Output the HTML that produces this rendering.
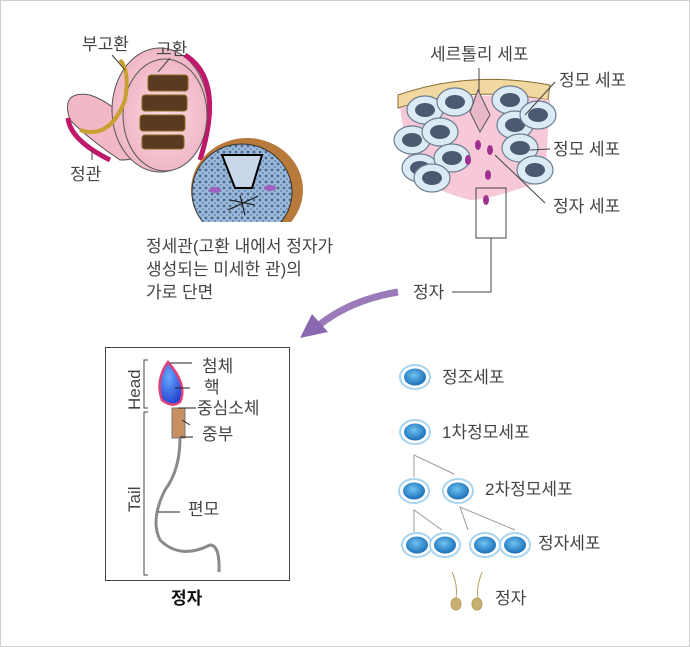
<!DOCTYPE html>
<html><head><meta charset="utf-8"><style>
html,body{margin:0;padding:0;background:#fff}
svg{display:block}
text{font-family:"Liberation Sans","Noto Sans CJK KR",sans-serif;fill:#444;font-size:17px}
</style></head><body>
<svg width="690" height="647" viewBox="0 0 690 647" xmlns="http://www.w3.org/2000/svg">
<defs>
<radialGradient id="cg" cx="0.45" cy="0.4" r="0.6"><stop offset="0" stop-color="#6fc3f0"/><stop offset="1" stop-color="#1a6fb8"/></radialGradient>
<radialGradient id="hg" cx="0.4" cy="0.35" r="0.7"><stop offset="0" stop-color="#6aa8ff"/><stop offset="1" stop-color="#1e3fd0"/></radialGradient>
<radialGradient id="pg" cx="0.5" cy="0.5" r="0.6"><stop offset="0" stop-color="#fbdde4"/><stop offset="1" stop-color="#eeb0c0"/></radialGradient>
<pattern id="dots" width="6" height="6" patternUnits="userSpaceOnUse"><rect width="6" height="6" fill="#9ab8d8"/><circle cx="2" cy="2" r="1.4" fill="#4a6a90"/><circle cx="5" cy="5" r="1" fill="#6a88b0"/></pattern>
<g id="cell"><ellipse rx="15" ry="12" fill="#fff" stroke="#a8d4f0" stroke-width="2"/><ellipse rx="11" ry="8.5" fill="url(#cg)"/></g>
<g id="oc"><ellipse rx="18" ry="14" fill="#dceaf5" stroke="#6b7f90" stroke-width="1.2"/><ellipse rx="10" ry="7" fill="#4a5a70"/></g>
</defs>
<rect x="0.5" y="0.5" width="689" height="646" fill="#fff" stroke="#cfcfcf"/>

<!-- testis illustration -->
<path d="M70 120 Q60 90 90 95 Q120 105 140 140 Q150 160 120 160 Q90 140 70 120Z" fill="#f3b8c6" stroke="#555"/>
<path d="M68 118 Q70 140 110 160" fill="none" stroke="#c0186a" stroke-width="5"/>
<ellipse cx="160" cy="110" rx="48" ry="62" fill="url(#pg)" stroke="#555"/>
<path d="M185 55 Q225 80 200 160" fill="none" stroke="#c0186a" stroke-width="5"/>
<ellipse cx="165" cy="115" rx="42" ry="56" fill="url(#pg)" stroke="#555"/>
<g fill="#5a3a20" stroke="#8a6a20"><rect x="148" y="75" width="40" height="16" rx="3"/><rect x="142" y="95" width="45" height="16" rx="3"/><rect x="140" y="115" width="45" height="16" rx="3"/><rect x="142" y="135" width="42" height="14" rx="3"/></g>
<path d="M80 130 Q110 140 125 100 Q130 70 120 60" fill="none" stroke="#c9a030" stroke-width="4"/>
<text x="82" y="50">부고환</text>
<text x="156" y="55">고환</text>
<text x="70" y="180">정관</text>
<line x1="112" y1="55" x2="125" y2="70" stroke="#444"/>
<line x1="170" y1="58" x2="158" y2="72" stroke="#444"/>
<line x1="92" y1="160" x2="92" y2="150" stroke="#444"/>
<!-- tubule cross-section -->
<clipPath id="cp"><rect x="180" y="130" width="130" height="92"/></clipPath>
<g clip-path="url(#cp)"><ellipse cx="247" cy="190" rx="56" ry="52" fill="#b87a3a"/><ellipse cx="242" cy="192" rx="50" ry="48" fill="url(#dots)" stroke="#333"/>
<ellipse cx="215" cy="190" rx="6" ry="3" fill="#a060c0"/><ellipse cx="270" cy="188" rx="6" ry="3" fill="#a060c0"/>
<path d="M222 155 L262 155 L252 188 L235 188Z" fill="#c8d8ea" stroke="#000" stroke-width="2"/>
<g stroke="#111"><line x1="230" y1="200" x2="255" y2="205"/><line x1="240" y1="195" x2="245" y2="215"/><line x1="228" y1="210" x2="258" y2="196"/></g></g>
<text x="146" y="252">정세관(고환 내에서 정자가</text>
<text x="146" y="275">생성되는 미세한 관)의</text>
<text x="146" y="298">가로 단면</text>

<!-- seminiferous tissue -->
<path d="M398 95 Q470 70 550 85 L548 100 Q470 85 398 108Z" fill="#f0d8a0" stroke="#8a6a30"/>
<path d="M400 108 Q470 88 550 100 L545 180 Q490 200 470 200 Q430 190 410 170Z" fill="#f6c8d8"/>
<use href="#oc" x="425" y="110"/><use href="#oc" x="455" y="102"/><use href="#oc" x="412" y="140"/><use href="#oc" x="440" y="132"/><use href="#oc" x="420" y="168"/><use href="#oc" x="452" y="158"/><use href="#oc" x="432" y="178"/>
<use href="#oc" x="510" y="100"/><use href="#oc" x="515" y="125"/><use href="#oc" x="520" y="148"/><use href="#oc" x="538" y="115"/><use href="#oc" x="535" y="170"/>
<path d="M478 90 L490 115 L480 132 L470 112Z" fill="#e8b8c8" stroke="#555"/>
<g fill="#a03090"><ellipse cx="478" cy="145" rx="3" ry="5"/><ellipse cx="490" cy="150" rx="3" ry="5"/><ellipse cx="468" cy="160" rx="3" ry="5"/><ellipse cx="488" cy="175" rx="3" ry="5"/><ellipse cx="486" cy="200" rx="3" ry="5"/></g>
<rect x="476" y="188" width="30" height="50" fill="none" stroke="#444"/>
<text x="430" y="60">세르톨리 세포</text>
<text x="559" y="86">정모 세포</text>
<text x="553" y="155">정모 세포</text>
<text x="553" y="212">정자 세포</text>
<line x1="479" y1="68" x2="479" y2="92" stroke="#444"/>
<line x1="555" y1="82" x2="525" y2="115" stroke="#444"/>
<line x1="550" y1="149" x2="530" y2="150" stroke="#444"/>
<line x1="545" y1="203" x2="495" y2="155" stroke="#444"/>
<polyline points="491,238 491,292 452,292" fill="none" stroke="#444"/>
<text x="413" y="298">정자</text>
<!-- arrow -->
<path d="M398 292 Q350 300 318 326" fill="none" stroke="#9a7ab8" stroke-width="7"/>
<polygon points="300,338 312,314 328,332" fill="#8a68b0"/>

<!-- sperm panel -->
<rect x="105.5" y="347.5" width="184" height="233" fill="none" stroke="#444"/>
<path d="M148 360 L144 360 L144 408 L148 408 M148 412 L144 412 L144 575 L148 575" fill="none" stroke="#444"/>
<text transform="translate(140,410) rotate(-90)" font-size="17">Head</text>
<text transform="translate(140,512) rotate(-90)" font-size="17">Tail</text>
<path d="M168 362 Q155 380 162 400 Q172 408 180 402 Q188 385 168 362Z" fill="url(#hg)" stroke="#e0407a" stroke-width="2.5"/>
<rect x="172" y="408" width="13" height="30" fill="#c89060" stroke="#777"/>
<path d="M180 438 Q180 470 165 490 Q150 520 160 540 Q180 560 210 545 Q220 545 219 572" fill="none" stroke="#8a8a8a" stroke-width="3"/>
<g stroke="#222"><line x1="170" y1="363" x2="192" y2="363"/><line x1="175" y1="388" x2="190" y2="388"/><line x1="178" y1="408" x2="196" y2="408"/><line x1="182" y1="420" x2="190" y2="425"/><line x1="180" y1="437" x2="193" y2="437"/><line x1="158" y1="512" x2="180" y2="512"/></g>
<text x="202" y="372" font-size="17">첨체</text>
<text x="204" y="393" font-size="17">핵</text>
<text x="197" y="414" font-size="17">중심소체</text>
<text x="202" y="440" font-size="17">중부</text>
<text x="188" y="515" font-size="17">편모</text>
<text x="171" y="604" font-size="17" font-weight="bold" style="fill:#111">정자</text>

<!-- lineage -->
<use href="#cell" x="415" y="377"/>
<text x="442" y="383">정조세포</text>
<use href="#cell" x="415" y="432"/>
<text x="442" y="438">1차정모세포</text>
<g stroke="#999" fill="none"><polyline points="414,477 414,455 454,474"/><polyline points="414,532 414,510 442,530"/><polyline points="468,530 460,507 515,530"/></g>
<use href="#cell" x="414" y="491"/><use href="#cell" x="458" y="491"/>
<text x="485" y="495">2차정모세포</text>
<use href="#cell" x="417" y="545"/><use href="#cell" x="445" y="545"/><use href="#cell" x="485" y="545"/><use href="#cell" x="515" y="545"/>
<text x="538" y="549">정자세포</text>
<g fill="#c8b070" stroke="#b8a060"><path d="M452 572 Q458 585 456 598" fill="none"/><ellipse cx="456" cy="604" rx="5" ry="6"/><path d="M482 572 Q476 588 478 598" fill="none"/><ellipse cx="477" cy="604" rx="5" ry="6"/></g>
<text x="495" y="604">정자</text>
</svg>
</body></html>
